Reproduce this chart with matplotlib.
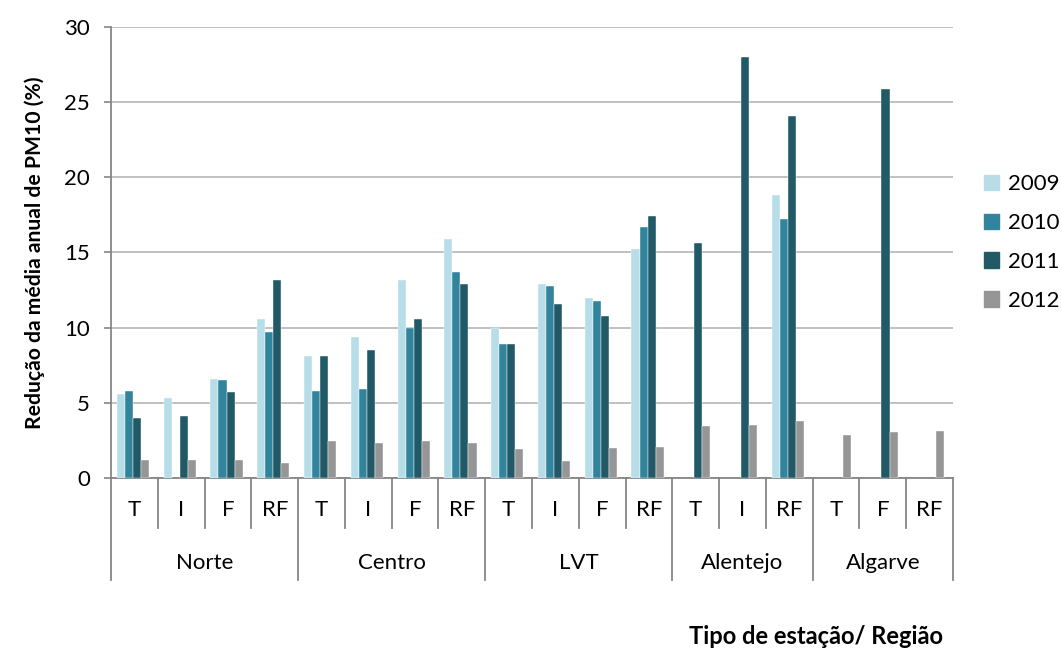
import numpy as np
import matplotlib
matplotlib.use("Agg")
import matplotlib.pyplot as plt
from matplotlib.patches import Patch
from matplotlib.transforms import blended_transform_factory

plt.rcParams['font.family'] = ['Lato', 'DejaVu Sans']

# Station types grouped by region
regions = ["Norte", "Centro", "LVT", "Alentejo", "Algarve"]
region_types = [["T", "I", "F", "RF"],
                ["T", "I", "F", "RF"],
                ["T", "I", "F", "RF"],
                ["T", "I", "RF"],
                ["T", "F", "RF"]]

years = ["2009", "2010", "2011", "2012"]
nan = np.nan
v2009 = [5.6, 5.3, 6.6, 10.6, 8.1, 9.4, 13.2, 15.9, 10.0, 12.9, 12.0, 15.2,
         nan, nan, 18.8, nan, nan, nan]
v2010 = [5.8, nan, 6.5, 9.7, 5.8, 5.9, 10.0, 13.7, 8.9, 12.8, 11.8, 16.7,
         nan, nan, 17.2, nan, nan, nan]
v2011 = [4.0, 4.1, 5.7, 13.2, 8.1, 8.5, 10.6, 12.9, 8.9, 11.6, 10.8, 17.4,
         15.6, 28.0, 24.1, nan, 25.9, nan]
v2012 = [1.2, 1.2, 1.2, 1.0, 2.45, 2.35, 2.45, 2.3, 1.9, 1.1, 2.0, 2.05,
         3.45, 3.5, 3.8, 2.85, 3.05, 3.1]
series = [v2009, v2010, v2011, v2012]
colors = ["#b7dee8", "#31849b", "#215967", "#969696"]

yticks = [0, 5, 10, 15, 20, 25, 30]

type_labels = [t for grp in region_types for t in grp]
n = len(type_labels)
x = np.arange(n)

FS = 16

fig = plt.figure(figsize=(10.62, 6.5), dpi=100)
ax = fig.add_axes([0.1045, 0.2646, 0.7929, 0.6939])

bw = 0.172
offsets = (np.arange(4) - 1.5) * bw
for vals, col, off in zip(series, colors, offsets):
    ax.bar(x + off - 0.03, np.array(vals, dtype=float), width=bw, color=col,
           edgecolor="white", linewidth=0.3, zorder=3)

ax.set_xlim(-0.5, n - 0.5)
ax.set_ylim(0, 30)
ax.set_yticks(yticks)
ax.set_yticklabels([str(t) for t in yticks], fontsize=FS)
ax.yaxis.grid(True, color="#c0c0c0", linewidth=1.4, zorder=0)
ax.set_axisbelow(True)
ax.tick_params(axis="y", length=5, color="#868686", width=1.2, pad=10)
ax.set_xticks([])

for side in ["top", "right"]:
    ax.spines[side].set_visible(False)
for side in ["left", "bottom"]:
    ax.spines[side].set_color("#868686")
    ax.spines[side].set_linewidth(1.3)

# Two-level category axis
tr = blended_transform_factory(ax.transData, ax.transAxes)
boundaries = np.cumsum([0] + [len(g) for g in region_types])
for b in range(n + 1):
    edge = b - 0.5
    depth = -0.226 if b in boundaries else -0.111
    ax.plot([edge, edge], [0, depth], transform=tr, color="#868686",
            linewidth=1.3, clip_on=False)

for xi, lab in zip(x, type_labels):
    ax.text(xi, -0.071, lab, transform=tr, ha="center", va="center",
            fontsize=FS, color="black")

for r, name in enumerate(regions):
    center = (boundaries[r] + boundaries[r + 1] - 1) / 2
    ax.text(center, -0.188, name, transform=tr, ha="center", va="center",
            fontsize=FS, color="black")

ax.set_ylabel("Redução da média anual de PM10 (%)", fontsize=15.2,
              fontweight="bold", labelpad=14)
fig.text(0.768, 0.0215, "Tipo de estação/ Região", ha="center", va="center",
         fontsize=17, fontweight="bold")

handles = [Patch(facecolor=c, edgecolor=c) for c in colors]
fig.legend(handles, years, loc="center left", bbox_to_anchor=(0.9266, 0.627),
           frameon=False, fontsize=FS, handlelength=0.68, handleheight=0.68,
           handletextpad=0.4, labelspacing=0.85, borderpad=0, borderaxespad=0)

fig.savefig("out.png", dpi=100)
